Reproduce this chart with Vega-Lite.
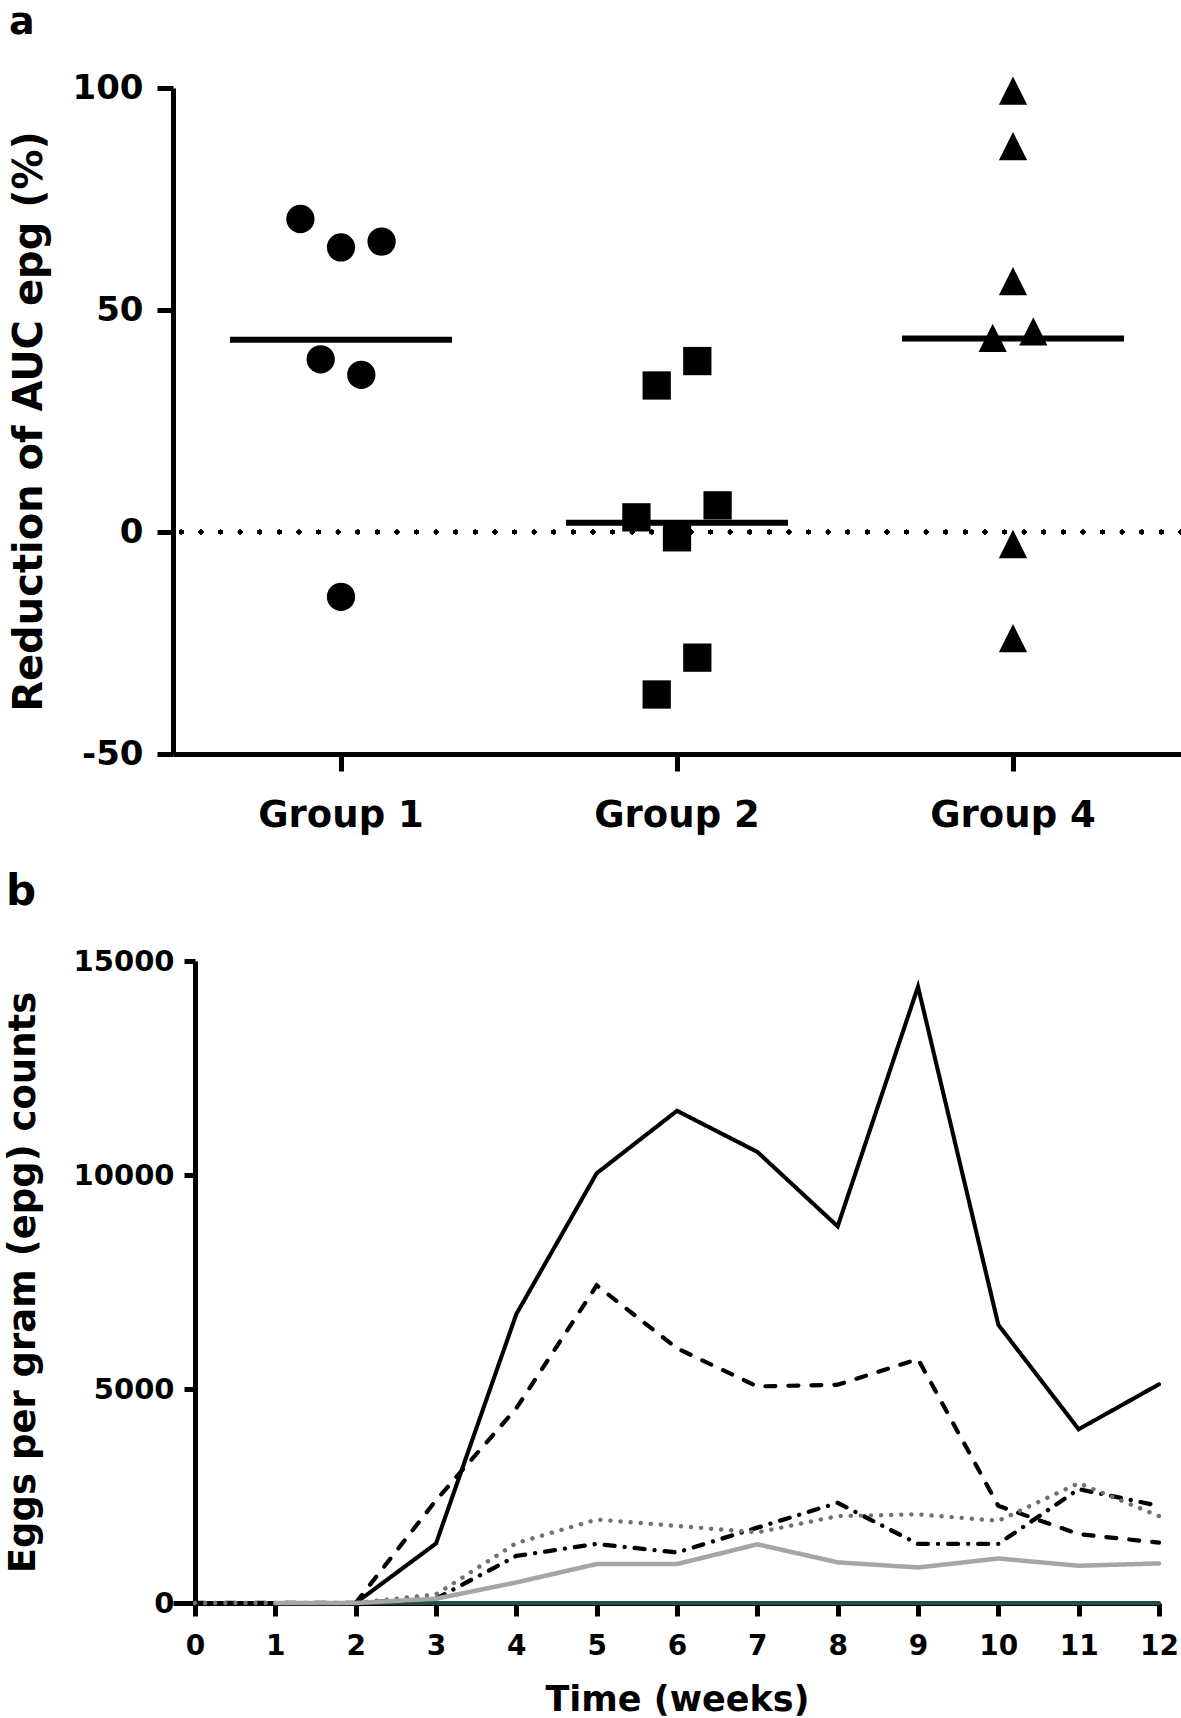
{
  "$schema": "https://vega.github.io/schema/vega-lite/v6.json",
  "background": "white",
  "padding": {"left": 4, "top": 4, "right": 0, "bottom": 0},
  "config": {
    "view": {"stroke": null},
    "axis": {
      "grid": false,
      "domainColor": "black",
      "tickColor": "black",
      "labelColor": "black",
      "titleColor": "black",
      "labelFont": "DejaVu Sans",
      "titleFont": "DejaVu Sans",
      "labelFontWeight": "bold",
      "titleFontWeight": "bold",
      "labelFlush": false,
      "labelOverlap": false
    },
    "title": {"font": "DejaVu Sans", "fontWeight": "bold", "color": "black"}
  },
  "vconcat": [
    {
      "width": 1008,
      "height": 666,
      "title": {"text": "a", "anchor": "start", "frame": "group", "dx": -164, "offset": -1, "fontSize": 38, "baseline": "alphabetic"},
      "data": {
        "values": [
          {"group": "Group 1", "slot": -2, "value": 70.5},
          {"group": "Group 1", "slot": 0, "value": 64.1},
          {"group": "Group 1", "slot": 2, "value": 65.4},
          {"group": "Group 1", "slot": -1, "value": 38.9},
          {"group": "Group 1", "slot": 1, "value": 35.4},
          {"group": "Group 1", "slot": 0, "value": -14.6},
          {"group": "Group 2", "slot": -1, "value": 33.0},
          {"group": "Group 2", "slot": 1, "value": 38.5},
          {"group": "Group 2", "slot": -2, "value": 3.3},
          {"group": "Group 2", "slot": 0, "value": -1.2},
          {"group": "Group 2", "slot": 2, "value": 6.0},
          {"group": "Group 2", "slot": 1, "value": -28.3},
          {"group": "Group 2", "slot": -1, "value": -36.6},
          {"group": "Group 4", "slot": 0, "value": 99.4},
          {"group": "Group 4", "slot": 0, "value": 86.9},
          {"group": "Group 4", "slot": 0, "value": 56.5},
          {"group": "Group 4", "slot": -1, "value": 43.7},
          {"group": "Group 4", "slot": 1, "value": 45.2},
          {"group": "Group 4", "slot": 0, "value": -2.7},
          {"group": "Group 4", "slot": 0, "value": -23.9}
        ]
      },
      "layer": [
        {
          "mark": {"type": "rule", "color": "black", "strokeWidth": 4.5, "strokeDash": [0.1, 19.5], "strokeCap": "round"},
          "encoding": {"y": {"datum": 0, "type": "quantitative"}}
        },
        {
          "mark": {"type": "point", "filled": true, "opacity": 1, "color": "black", "size": 800, "strokeWidth": 0},
          "encoding": {
            "x": {
              "field": "group", "type": "nominal",
              "scale": {"type": "band", "domain": ["Group 1", "Group 2", "Group 4"], "paddingInner": 0, "paddingOuter": 0},
              "axis": {"title": null, "labelAngle": 0, "labelFontSize": 37, "labelPadding": 26, "tickSize": 17, "tickWidth": 5, "domainWidth": 5}
            },
            "xOffset": {"field": "slot", "type": "quantitative", "scale": {"domain": [-2, 2], "range": [127.4, 208.6]}},
            "y": {
              "field": "value", "type": "quantitative",
              "scale": {"domain": [-50, 100], "nice": false, "zero": false},
              "axis": {"values": [-50, 0, 50, 100], "labelExpr": "'' + datum.value", "title": "Reduction of AUC epg (%)", "labelFontSize": 34, "titleFontSize": 40, "labelPadding": 14, "titlePadding": 23, "tickSize": 16, "tickWidth": 5, "domainWidth": 5}
            },
            "shape": {
              "field": "group", "type": "nominal",
              "scale": {"domain": ["Group 1", "Group 2", "Group 4"], "range": ["circle", "square", "M0,-1L1,1L-1,1Z"]},
              "legend": null
            }
          }
        },
        {
          "mark": {"type": "tick", "size": 222, "thickness": 6, "color": "black", "opacity": 1},
          "encoding": {
            "x": {"field": "group", "type": "nominal"},
            "y": {"aggregate": "mean", "field": "value", "type": "quantitative"}
          }
        }
      ]
    },
    {
      "width": 986,
      "height": 642,
      "title": {"text": "b", "anchor": "start", "frame": "group", "dx": -167, "offset": 0, "fontSize": 42, "baseline": "alphabetic"},
      "data": {
        "values": [
          {"series": "Line 6", "week": 0, "epg": 0}, {"series": "Line 6", "week": 1, "epg": 0}, {"series": "Line 6", "week": 2, "epg": 0},
          {"series": "Line 6", "week": 3, "epg": 0}, {"series": "Line 6", "week": 4, "epg": 0}, {"series": "Line 6", "week": 5, "epg": 0},
          {"series": "Line 6", "week": 6, "epg": 0}, {"series": "Line 6", "week": 7, "epg": 0}, {"series": "Line 6", "week": 8, "epg": 0},
          {"series": "Line 6", "week": 9, "epg": 0}, {"series": "Line 6", "week": 10, "epg": 0}, {"series": "Line 6", "week": 11, "epg": 0},
          {"series": "Line 6", "week": 12, "epg": 0},
          {"series": "Line 1", "week": 0, "epg": 0}, {"series": "Line 1", "week": 1, "epg": 0}, {"series": "Line 1", "week": 2, "epg": 0},
          {"series": "Line 1", "week": 3, "epg": 1390}, {"series": "Line 1", "week": 4, "epg": 6750}, {"series": "Line 1", "week": 5, "epg": 10040},
          {"series": "Line 1", "week": 6, "epg": 11500}, {"series": "Line 1", "week": 7, "epg": 10540}, {"series": "Line 1", "week": 8, "epg": 8800},
          {"series": "Line 1", "week": 9, "epg": 14400}, {"series": "Line 1", "week": 10, "epg": 6500}, {"series": "Line 1", "week": 11, "epg": 4060},
          {"series": "Line 1", "week": 12, "epg": 5110},
          {"series": "Line 2", "week": 0, "epg": 0}, {"series": "Line 2", "week": 1, "epg": 0}, {"series": "Line 2", "week": 2, "epg": 0},
          {"series": "Line 2", "week": 3, "epg": 2400}, {"series": "Line 2", "week": 4, "epg": 4550}, {"series": "Line 2", "week": 5, "epg": 7420},
          {"series": "Line 2", "week": 6, "epg": 5950}, {"series": "Line 2", "week": 7, "epg": 5060}, {"series": "Line 2", "week": 8, "epg": 5100},
          {"series": "Line 2", "week": 9, "epg": 5700}, {"series": "Line 2", "week": 10, "epg": 2270}, {"series": "Line 2", "week": 11, "epg": 1610},
          {"series": "Line 2", "week": 12, "epg": 1410},
          {"series": "Line 3", "week": 0, "epg": 0}, {"series": "Line 3", "week": 1, "epg": 0}, {"series": "Line 3", "week": 2, "epg": 0},
          {"series": "Line 3", "week": 3, "epg": 100}, {"series": "Line 3", "week": 4, "epg": 1100}, {"series": "Line 3", "week": 5, "epg": 1380},
          {"series": "Line 3", "week": 6, "epg": 1180}, {"series": "Line 3", "week": 7, "epg": 1760}, {"series": "Line 3", "week": 8, "epg": 2340},
          {"series": "Line 3", "week": 9, "epg": 1380}, {"series": "Line 3", "week": 10, "epg": 1380}, {"series": "Line 3", "week": 11, "epg": 2660},
          {"series": "Line 3", "week": 12, "epg": 2270},
          {"series": "Line 4", "week": 0, "epg": 0}, {"series": "Line 4", "week": 1, "epg": 0}, {"series": "Line 4", "week": 2, "epg": 0},
          {"series": "Line 4", "week": 3, "epg": 200}, {"series": "Line 4", "week": 4, "epg": 1400}, {"series": "Line 4", "week": 5, "epg": 1950},
          {"series": "Line 4", "week": 6, "epg": 1800}, {"series": "Line 4", "week": 7, "epg": 1650}, {"series": "Line 4", "week": 8, "epg": 2030},
          {"series": "Line 4", "week": 9, "epg": 2070}, {"series": "Line 4", "week": 10, "epg": 1920}, {"series": "Line 4", "week": 11, "epg": 2800},
          {"series": "Line 4", "week": 12, "epg": 2030},
          {"series": "Line 5", "week": 1, "epg": 0}, {"series": "Line 5", "week": 2, "epg": 0},
          {"series": "Line 5", "week": 3, "epg": 100}, {"series": "Line 5", "week": 4, "epg": 480}, {"series": "Line 5", "week": 5, "epg": 910},
          {"series": "Line 5", "week": 6, "epg": 910}, {"series": "Line 5", "week": 7, "epg": 1370}, {"series": "Line 5", "week": 8, "epg": 950},
          {"series": "Line 5", "week": 9, "epg": 830}, {"series": "Line 5", "week": 10, "epg": 1040}, {"series": "Line 5", "week": 11, "epg": 870},
          {"series": "Line 5", "week": 12, "epg": 925}
        ]
      },
      "mark": {"type": "line", "strokeCap": "round", "strokeJoin": "miter"},
      "encoding": {
        "x": {
          "field": "week", "type": "quantitative",
          "scale": {"domain": [-0.274, 12], "nice": false, "zero": false},
          "axis": {"values": [0, 1, 2, 3, 4, 5, 6, 7, 8, 9, 10, 11, 12], "title": "Time (weeks)", "titleX": 504, "labelFontSize": 28, "titleFontSize": 35, "labelPadding": 16, "titlePadding": 22, "tickSize": 13, "tickWidth": 5, "domainWidth": 5}
        },
        "y": {
          "field": "epg", "type": "quantitative",
          "scale": {"domain": [0, 15000], "nice": false},
          "axis": {"values": [0, 5000, 10000, 15000], "format": "d", "offset": -22, "title": "Eggs per gram (epg) counts", "labelFontSize": 29, "titleFontSize": 37, "labelPadding": 10, "titlePadding": 31, "tickSize": 11, "tickWidth": 5, "domainWidth": 5}
        },
        "color": {
          "field": "series", "type": "nominal",
          "scale": {"domain": ["Line 6", "Line 1", "Line 2", "Line 3", "Line 4", "Line 5"], "range": ["#1e5049", "#000000", "#000000", "#000000", "#707070", "#a6a6a6"]},
          "legend": null
        },
        "strokeDash": {
          "field": "series", "type": "nominal",
          "scale": {"domain": ["Line 6", "Line 1", "Line 2", "Line 3", "Line 4", "Line 5"], "range": [[1, 0], [1, 0], [10, 13], [10, 10, 0.1, 10], [0.1, 10], [1, 0]]},
          "legend": null
        },
        "strokeWidth": {
          "field": "series", "type": "nominal",
          "scale": {"domain": ["Line 6", "Line 1", "Line 2", "Line 3", "Line 4", "Line 5"], "range": [4, 4.5, 4.5, 4.5, 5, 6]},
          "legend": null
        }
      }
    }
  ],
  "spacing": 38
}
